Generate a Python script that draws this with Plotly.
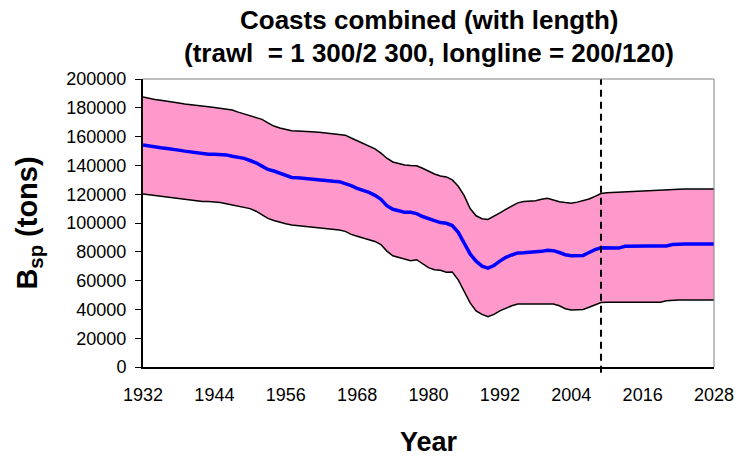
import plotly.graph_objects as go

years = list(range(1932, 2029))

upper = [187500, 186500, 185800, 185200, 184700, 184200, 183400, 182600, 182000, 181600,
         181200, 180700, 180200, 179700, 179200, 178400, 177000, 175800, 174600, 173600,
         172000, 169500, 167300, 166000, 165000, 164100, 163900, 163800, 163500, 163200,
         162800, 162400, 162000, 161700, 161000, 159000, 157000, 155300, 153500, 151500,
         148500, 145000, 142400, 141200, 140300, 140000, 139800, 138000, 136000, 134000,
         132600, 132000, 129900, 125500, 119000, 110000, 105000, 103000, 102500, 104500,
         107000, 109500, 112000, 114000, 115000, 115200, 115500, 116500, 117100, 116000,
         114800, 114200, 113700, 114500, 115500, 116700, 118500, 120500, 121000, 121200,
         121400, 121800, 122300, 122400, 122500, 122600, 122800, 123000, 123500, 123600,
         123600, 123600, 123600, 123600, 123600, 123600, 123600]

mean = [154200, 153400, 152900, 152300, 151800, 151400, 150600, 149900, 149300, 148600,
        147900, 147700, 147700, 147700, 147300, 146400, 145600, 144900, 143400, 141800,
        139500, 137200, 136100, 134500, 133000, 131600, 131500, 131000, 130500, 130000,
        129600, 129400, 129000, 128700, 127500, 126000, 124100, 122800, 121200, 119200,
        116500, 112000, 109500, 108500, 107400, 107400, 106500, 104500, 102800, 101600,
        100300, 99800, 98200, 93500, 86000, 78500, 73500, 70000, 68700, 70500,
        73500, 76200, 77800, 79200, 79400, 79500, 79600, 80300, 81000, 80800,
        79500, 78000, 77300, 77300, 77500, 79500, 81500, 82800, 82800, 82700,
        82600, 83800, 84000, 84000, 84000, 84000, 84000, 84000, 84000, 85000,
        85400, 85400, 85400, 85400, 85400, 85400, 85400]

lower = [120100, 119600, 118900, 118200, 117700, 117200, 116700, 116200, 115700, 115300,
         115000, 114900, 114800, 114200, 113400, 112600, 112000, 111200, 110000, 108200,
         105500, 103200, 101800, 100500, 99500, 98600, 98200, 97800, 97200, 96800,
         96500, 96300, 95800, 95200, 94200, 92100, 90800, 89600, 88500, 87200,
         85000, 80500, 77200, 76000, 74800, 73800, 74500, 72000, 69000, 67600,
         67200, 65800, 66000, 60500, 53000, 44500, 39000, 36500, 34900, 36500,
         39000, 40800, 42500, 43700, 43700, 43700, 43700, 43700, 43700, 43700,
         42500, 40500, 39600, 39700, 40000, 41500, 43000, 44800, 44900, 44900,
         44900, 44900, 44900, 44900, 44900, 44900, 44900, 44900, 46000, 46500,
         46500, 46500, 46500, 46500, 46500, 46500, 46500]

x_ticks = list(range(1932, 2029, 12))
y_ticks = list(range(0, 200001, 20000))
split_year = 2009

FONT = "Arial, Liberation Sans, sans-serif"

fig = go.Figure()
fig.add_trace(go.Scatter(x=years, y=lower, mode="lines", line=dict(width=0, color="black"),
                         showlegend=False, hoverinfo="skip"))
fig.add_trace(go.Scatter(x=years, y=upper, mode="lines", line=dict(width=0, color="black"),
                         fill="tonexty", fillcolor="#FF99CC", showlegend=False, hoverinfo="skip"))
fig.add_trace(go.Scatter(x=years, y=lower, mode="lines", line=dict(width=1.5, color="black"),
                         showlegend=False))
fig.add_trace(go.Scatter(x=years, y=upper, mode="lines", line=dict(width=1.5, color="black"),
                         showlegend=False))
fig.add_trace(go.Scatter(x=years, y=mean, mode="lines", line=dict(width=3.5, color="#0000FF"),
                         showlegend=False))

fig.add_shape(type="line", xref="x", yref="paper", x0=split_year, x1=split_year, y0=-0.02, y1=1,
              line=dict(color="black", width=2, dash="7px,5px"), layer="above")
# plot-area border (top and right)
fig.add_shape(type="line", xref="paper", yref="paper", x0=0, x1=1, y0=1, y1=1,
              line=dict(color="#808080", width=1))
fig.add_shape(type="line", xref="paper", yref="paper", x0=1, x1=1, y0=0, y1=1,
              line=dict(color="#808080", width=1))

fig.add_annotation(text="<b>Coasts combined (with length)</b>", xref="paper", yref="paper",
                   x=0.5, y=1, yshift=59, yanchor="middle", showarrow=False,
                   font=dict(family=FONT, size=26, color="black"))
fig.add_annotation(text="<b>(trawl  = 1 300/2 300, longline = 200/120)</b>", xref="paper", yref="paper",
                   x=0.5, y=1, yshift=26, yanchor="middle", showarrow=False,
                   font=dict(family=FONT, size=26, color="black"))

fig.update_layout(
    width=740, height=457,
    margin=dict(l=143, r=26, t=79, b=90, autoexpand=False),
    paper_bgcolor="white", plot_bgcolor="white",
    font=dict(family=FONT, color="black"),
    xaxis=dict(range=[1932, 2028], tickvals=x_ticks, ticktext=[str(v) for v in x_ticks],
               showgrid=False, zeroline=False, showline=True, linecolor="black", linewidth=2,
               ticks="", tickfont=dict(size=18, family=FONT), automargin=False,
               ticklabelstandoff=10,
               title=dict(text="<b>Year</b>", font=dict(size=27, family=FONT), standoff=30)),
    yaxis=dict(range=[0, 200000], tickvals=y_ticks, ticktext=[str(v) for v in y_ticks],
               showgrid=False, zeroline=False, showline=True, linecolor="black", linewidth=2,
               ticks="outside", ticklen=6, tickwidth=1, tickcolor="black",
               tickfont=dict(size=18, family=FONT), automargin=False,
               ticklabelstandoff=5,
               title=dict(text="<b>B<sub>sp</sub> (tons)</b>", font=dict(size=29, family=FONT), standoff=20)),
)

fig.write_html("out.html", config={"displayModeBar": False},
               post_script="document.body.style.margin='0';document.body.style.padding='0';")
